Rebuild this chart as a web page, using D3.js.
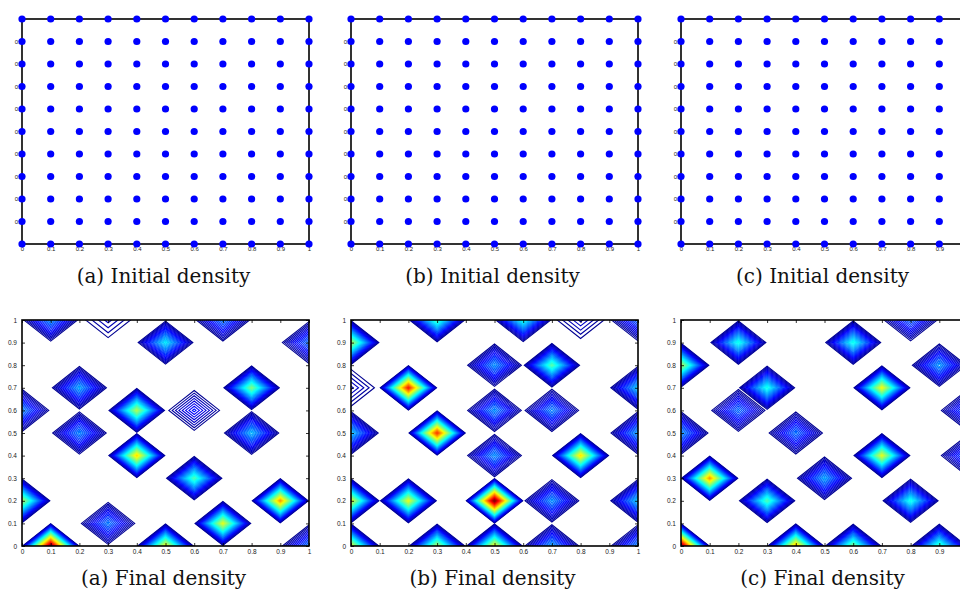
<!DOCTYPE html>
<html>
<head>
<meta charset="utf-8">
<script src="https://cdn.jsdelivr.net/npm/d3@7"></script>
<style>
  body { margin: 0; background: #fff; }
</style>
</head>
<body>
<div id="chart"></div>
<script>
// grid of the unit square, 0.1 apart
const gridTicks = [0, 0.1, 0.2, 0.3, 0.4, 0.5, 0.6, 0.7, 0.8, 0.9, 1];
const tickLabels = ["0", "0.1", "0.2", "0.3", "0.4", "0.5", "0.6", "0.7", "0.8", "0.9", "1"];

const initialCaptions = ["(a) Initial density", "(b) Initial density", "(c) Initial density"];
const finalCaptions = ["(a) Final density", "(b) Final density", "(c) Final density"];

// final density: [x, y, height relative to the panel max]
const peaksA = [
    [0.1, 1.0, 0.27], [0.3, 1.0, 0.08], [0.5, 0.9, 0.36], [0.7, 1.0, 0.25], [1.0, 0.9, 0.24],
    [0.2, 0.7, 0.29], [0.8, 0.7, 0.50], [0.0, 0.6, 0.27], [0.4, 0.6, 0.55], [0.6, 0.6, 0.15],
    [0.2, 0.5, 0.26], [0.8, 0.5, 0.31], [0.4, 0.4, 0.66], [0.6, 0.3, 0.45], [0.0, 0.2, 0.55],
    [0.9, 0.2, 0.72], [0.3, 0.1, 0.25], [0.7, 0.1, 0.60], [0.1, 0.0, 1.00], [0.5, 0.0, 0.62],
    [1.0, 0.0, 0.25]
];
const peaksB = [
    [0.0, 0.9, 0.55], [0.3, 1.0, 0.45], [0.6, 1.0, 0.40], [0.8, 1.0, 0.095], [1.0, 1.0, 0.23],
    [0.0, 0.7, 0.095], [0.2, 0.7, 0.85], [0.5, 0.8, 0.27], [0.7, 0.8, 0.46], [1.0, 0.7, 0.33],
    [0.5, 0.6, 0.27], [0.7, 0.6, 0.26], [0.0, 0.5, 0.33], [0.3, 0.5, 0.82], [1.0, 0.5, 0.29],
    [0.5, 0.4, 0.27], [0.8, 0.4, 0.65], [0.0, 0.2, 0.60], [0.2, 0.2, 0.60], [0.5, 0.2, 1.00],
    [0.7, 0.2, 0.27], [1.0, 0.2, 0.33], [0.0, 0.0, 0.60], [0.3, 0.0, 0.55], [0.5, 0.0, 0.62],
    [0.7, 0.0, 0.29], [1.0, 0.0, 0.27]
];
const peaksC = [
    [0.2, 0.9, 0.40], [0.6, 0.9, 0.40], [0.8, 1.0, 0.23], [0.0, 0.8, 0.55], [0.9, 0.8, 0.28],
    [0.3, 0.7, 0.40], [0.7, 0.7, 0.62], [0.2, 0.6, 0.24], [1.0, 0.6, 0.24], [0.0, 0.5, 0.28],
    [0.4, 0.5, 0.24], [0.7, 0.4, 0.60], [1.0, 0.4, 0.24], [0.1, 0.3, 0.72], [0.5, 0.3, 0.29],
    [0.3, 0.2, 0.45], [0.8, 0.2, 0.40], [0.0, 0.0, 1.00], [0.4, 0.0, 0.70], [0.6, 0.0, 0.50],
    [0.9, 0.0, 0.45]
];
const finalPeaks = [peaksA, peaksB, peaksC];

const nLevels = 56;

// layout
const width = 960, height = 590;
const panelLeft = [22, 351, 681];
const panelW = 287;
const topRow = { y0: 19, y1: 244, caption: 283 };
const bottomRow = { y0: 320, y1: 546, caption: 585 };

const jet = t => {
    const c = v => Math.max(0, Math.min(1, v));
    return d3.rgb(255 * c(1.5 - Math.abs(4 * t - 3)),
                  255 * c(1.5 - Math.abs(4 * t - 2)),
                  255 * c(1.5 - Math.abs(4 * t - 1)));
};

const svg = d3.select("#chart").append("svg")
    .attr("width", width)
    .attr("height", height)
    .style("display", "block");

const drawAxes = (g, x, y, labelPadX, labelPadY, fontSize) => {
    const fmt = (d, i) => tickLabels[i];
    const style = sel => {
        sel.select(".domain").remove();
        sel.selectAll(".tick line").attr("stroke", "#000").attr("stroke-width", 0.8);
        sel.selectAll("text").attr("fill", "#222")
            .style("font", `${fontSize}px 'Liberation Sans', Arial, sans-serif`);
        // the right-hand panel runs past the page edge
        sel.selectAll(".tick").filter(d => x(d) > width - 4 && sel.classed("xlab"))
            .select("text").remove();
    };
    g.append("g").attr("class", "xlab").attr("transform", `translate(0,${y.range()[0]})`)
        .call(d3.axisBottom(x).tickValues(gridTicks).tickFormat(fmt).tickSize(-3).tickPadding(labelPadY))
        .call(style);
    g.append("g").attr("transform", `translate(${x.range()[0]},0)`)
        .call(d3.axisLeft(y).tickValues(gridTicks).tickFormat(fmt).tickSize(-3).tickPadding(labelPadX))
        .call(style);
    g.append("g").attr("transform", `translate(0,${y.range()[1]})`)
        .call(d3.axisTop(x).tickValues(gridTicks).tickFormat("").tickSize(-3))
        .call(style);
    g.append("g").attr("transform", `translate(${x.range()[1]},0)`)
        .call(d3.axisRight(y).tickValues(gridTicks).tickFormat("").tickSize(-3))
        .call(style);
    g.append("rect")
        .attr("x", x.range()[0]).attr("y", y.range()[1])
        .attr("width", x.range()[1] - x.range()[0])
        .attr("height", y.range()[0] - y.range()[1])
        .attr("fill", "none").attr("stroke", "#000").attr("stroke-width", 1.6);
};

const caption = (g, cx, cy, text) => {
    g.append("text")
        .attr("x", cx).attr("y", cy)
        .attr("text-anchor", "middle")
        .style("font", "20px 'DejaVu Serif', serif")
        .attr("fill", "#111")
        .text(text);
};

// top row: initial density, points on the grid
panelLeft.forEach((left, p) => {
    const x = d3.scaleLinear().domain([0, 1]).range([left, left + panelW]);
    const y = d3.scaleLinear().domain([0, 1]).range([topRow.y1, topRow.y0]);
    const g = svg.append("g");

    drawAxes(g, x, y, -1, 3, 6);

    g.append("g")
        .selectAll("circle")
        .data(d3.cross(gridTicks, gridTicks))
        .join("circle")
        .attr("cx", d => x(d[0]))
        .attr("cy", d => y(d[1]))
        .attr("r", 3.6)
        .attr("fill", "#0000ff");

    caption(g, (x(0) + x(1)) / 2 - 2, topRow.caption, initialCaptions[p]);
});

// bottom row: final density, contour lines
panelLeft.forEach((left, p) => {
    const x = d3.scaleLinear().domain([0, 1]).range([left, left + panelW]);
    const y = d3.scaleLinear().domain([0, 1]).range([bottomRow.y1, bottomRow.y0]);
    const g = svg.append("g");
    const n = gridTicks.length;

    const peaks = finalPeaks[p];
    const maxV = d3.max(peaks, d => d[2]);
    const thresholds = d3.range(1, nLevels + 1).map(i => maxV * i / (nLevels + 1));

    // grid cell i sits at contour coordinate i + 0.5
    const proj = d3.geoTransform({
        point: function(px, py) {
            this.stream.point(x((px - 0.5) / 10), y((py - 0.5) / 10));
        }
    });
    const path = d3.geoPath(proj);

    // each peak contoured on its own grid so touching diamonds stay apart
    const contours = peaks.flatMap(([px, py, h]) => {
        const values = new Array(n * n).fill(0);
        values[Math.round(py * 10) * n + Math.round(px * 10)] = h;
        return d3.contours().size([n, n])
            .thresholds(thresholds.filter(t => t < h))(values);
    });

    const clipId = "clip" + p;
    g.append("clipPath").attr("id", clipId)
        .append("rect")
        .attr("x", x(0)).attr("y", y(1))
        .attr("width", x(1) - x(0)).attr("height", y(0) - y(1));

    g.append("g")
        .attr("clip-path", `url(#${clipId})`)
        .selectAll("path")
        .data(contours)
        .join("path")
        .attr("d", path)
        .attr("fill", "none")
        .attr("stroke", d => jet(d.value / maxV))
        .attr("stroke-width", 1.1);

    drawAxes(g, x, y, 5, 3, 6.5);

    caption(g, (x(0) + x(1)) / 2 - 2, bottomRow.caption, finalCaptions[p]);
});
</script>
</body>
</html>
